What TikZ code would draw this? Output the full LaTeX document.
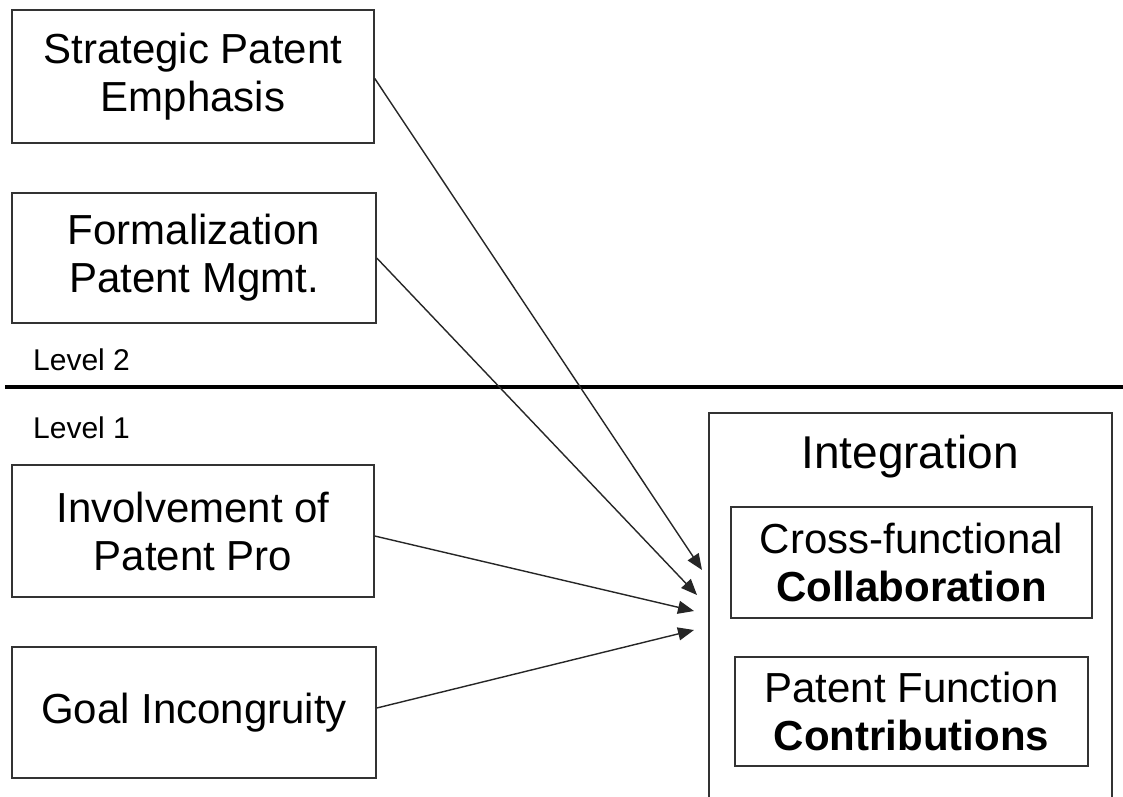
\documentclass[tikz,border=0pt]{standalone}
\usepackage{fontspec}
\setmainfont{Liberation Sans}
\usetikzlibrary{arrows.meta}
\begin{document}
\begin{tikzpicture}[x=1pt,y=-1pt,
  box/.style={draw=black!80, line width=1.5pt, rectangle, inner sep=0pt, align=center,
    font=\fontsize{42}{48}\selectfont},
  lvl/.style={anchor=west, inner sep=0pt, font=\fontsize{30}{34}\selectfont},
  arr/.style={draw=black!85, line width=1.4pt, -{Triangle[length=16pt,width=13pt]}}]
\useasboundingbox (0,0) rectangle (1123,796);
\fill[white] (0,0) rectangle (1123,796);
% left boxes
\node[box, minimum width=362pt, minimum height=133pt] (sp) at (193,76.5) {Strategic Patent\\Emphasis};
\node[box, minimum width=364pt, minimum height=130pt] (fp) at (194,258) {Formalization\\Patent Mgmt.};
\node[box, minimum width=362pt, minimum height=132pt] (ip) at (193,531) {Involvement of\\Patent Pro};
\node[box, minimum width=364pt, minimum height=131pt] (gi) at (194,712.5) {Goal Incongruity};
% levels
\node[lvl] (l2) at (33,360) {Level 2};
\node[lvl] (l1) at (33,428) {Level 1};
\coordinate (hl) at (5,387);
\coordinate (hr) at (1123,387);
\draw[line width=4pt] (hl) -- (hr);
% integration box (open at bottom)
\coordinate (obl) at (709,800);
\coordinate (otl) at (709,413);
\coordinate (otr) at (1112,413);
\coordinate (obr) at (1112,800);
\draw[draw=black!80, line width=1.5pt] (obl) -- (otl) -- (otr) -- (obr);
\node[font=\fontsize{46}{50}\selectfont, inner sep=0pt] (integ) at (910,457) {Integration};
\node[box, minimum width=361pt, minimum height=111pt] (cf) at (911.5,562.5) {Cross-functional\\\textbf{Collaboration}};
\node[box, minimum width=353pt, minimum height=109pt] (pf) at (911.5,711.5) {Patent Function\\\textbf{Contributions}};
% arrow tips
\coordinate (t1) at (702,570);
\coordinate (t2) at (697,595);
\coordinate (t3) at (694,611);
\coordinate (t4) at (694,630);
\draw[arr] ([yshift=-2pt]sp.east) -- (t1);
\draw[arr] (fp.east) -- (t2);
\draw[arr] ([yshift=-5pt]ip.east) -- (t3);
\draw[arr] ([yshift=4.5pt]gi.east) -- (t4);
\end{tikzpicture}
\end{document}
